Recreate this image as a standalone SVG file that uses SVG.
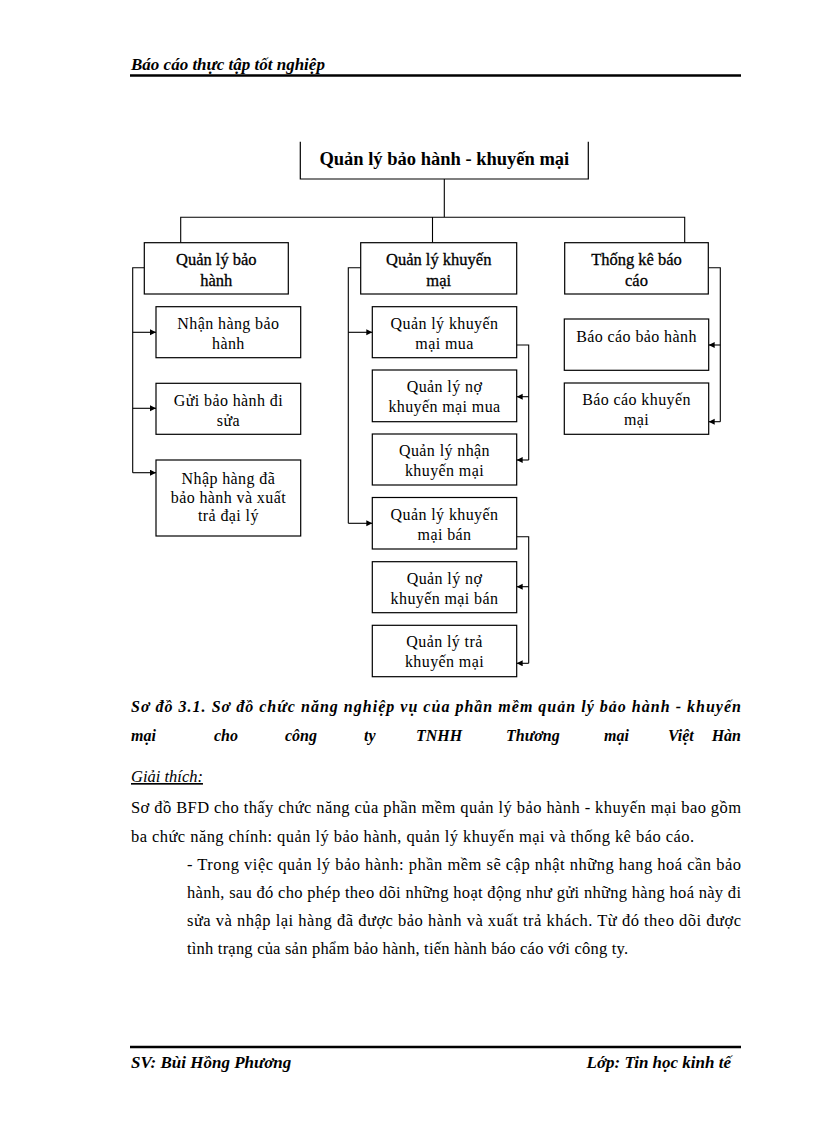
<svg xmlns="http://www.w3.org/2000/svg" width="816" height="1123" viewBox="0 0 816 1123">
<style>
.bx{fill:#fff;stroke:#000;stroke-width:1.2}
.ln{fill:none;stroke:#000;stroke-width:1.1}
.t{font-family:"Liberation Serif","Times New Roman",serif;font-size:16px;letter-spacing:0.4px;fill:#000;text-anchor:middle}
.t2{font-family:"Liberation Serif","Times New Roman",serif;font-size:16.5px;fill:#000;text-anchor:middle;stroke:#000;stroke-width:0.3}
.tt{font-family:"Liberation Serif","Times New Roman",serif;font-size:18.5px;font-weight:bold;fill:#000;text-anchor:middle}
.hd{font-family:"Liberation Serif","Times New Roman",serif;font-size:17px;font-weight:bold;font-style:italic;fill:#000}
.cap{font-family:"Liberation Serif","Times New Roman",serif;font-size:16px;font-weight:bold;font-style:italic;fill:#000}
.body{font-family:"Liberation Serif","Times New Roman",serif;font-size:16.5px;fill:#000}
</style>
<defs>
<marker id="ar" markerUnits="userSpaceOnUse" markerWidth="8" markerHeight="8" refX="6" refY="3" orient="auto">
<path d="M0,0 L6,3 L0,6 Z" fill="#000"/>
</marker>
</defs>

<g id="header">
<text class="hd" x="131" y="70">Báo cáo thực tập tốt nghiệp</text>
<line x1="130" y1="75.5" x2="741" y2="75.5" stroke="#000" stroke-width="2.5"/>
</g>

<g id="connectors">
<path class="ln" d="M444.3,179 V217.3 M180.7,242.7 V217.3 H684.7 V242.7 M432.5,217.3 V242.7"/>
<path class="ln" d="M144.3,267.7 H132.7 V472.7"/>
<line class="ln" x1="132.7" y1="332.3" x2="156" y2="332.3" marker-end="url(#ar)"/>
<line class="ln" x1="132.7" y1="408.3" x2="156" y2="408.3" marker-end="url(#ar)"/>
<line class="ln" x1="132.7" y1="472.7" x2="156" y2="472.7" marker-end="url(#ar)"/>
<path class="ln" d="M360.7,267.7 H348.3 V523.3"/>
<line class="ln" x1="348.3" y1="332.3" x2="372.3" y2="332.3" marker-end="url(#ar)"/>
<line class="ln" x1="348.3" y1="523.3" x2="372.3" y2="523.3" marker-end="url(#ar)"/>
<path class="ln" d="M516.7,345 H528.7 V460"/>
<line class="ln" x1="528.7" y1="396.7" x2="516.7" y2="396.7" marker-end="url(#ar)"/>
<line class="ln" x1="528.7" y1="460" x2="516.7" y2="460" marker-end="url(#ar)"/>
<path class="ln" d="M516.7,536.7 H528.7 V663.3"/>
<line class="ln" x1="528.7" y1="586.7" x2="516.7" y2="586.7" marker-end="url(#ar)"/>
<line class="ln" x1="528.7" y1="663.3" x2="516.7" y2="663.3" marker-end="url(#ar)"/>
<path class="ln" d="M708.3,267.7 H720.3 V421.7"/>
<line class="ln" x1="720.3" y1="345" x2="708.7" y2="345" marker-end="url(#ar)"/>
<line class="ln" x1="720.3" y1="421.7" x2="708.7" y2="421.7" marker-end="url(#ar)"/>
</g>

<g id="root">
<path d="M300.3,141.7 V179 H588.3 V141.7" fill="#fff" stroke="#000" stroke-width="1.2"/>
<text class="tt" x="444.3" y="165">Quản lý bảo hành - khuyến mại</text>
</g>

<g id="n-baohanh">
<rect class="bx" x="144.3" y="242.7" width="144" height="51.3"/>
<text class="t2" x="216.3" y="265">Quản lý bảo</text>
<text class="t2" x="216.3" y="286">hành</text>
</g>
<g id="n-khuyenmai">
<rect class="bx" x="360.7" y="242.7" width="156" height="51.3"/>
<text class="t2" x="438.7" y="265">Quản lý khuyến</text>
<text class="t2" x="438.7" y="286">mại</text>
</g>
<g id="n-thongke">
<rect class="bx" x="564.7" y="242.7" width="143.6" height="51.3"/>
<text class="t2" x="636.5" y="265">Thống kê báo</text>
<text class="t2" x="636.5" y="286">cáo</text>
</g>

<g id="n-nhanhang">
<rect class="bx" x="156" y="306.7" width="144.7" height="51"/>
<text class="t" x="228.4" y="329">Nhận hàng bảo</text>
<text class="t" x="228.4" y="349">hành</text>
</g>
<g id="n-guibaohanh">
<rect class="bx" x="156" y="383.3" width="144.7" height="51"/>
<text class="t" x="228.4" y="405.5">Gửi bảo hành đi</text>
<text class="t" x="228.4" y="425.5">sửa</text>
</g>
<g id="n-nhaphang">
<rect class="bx" x="156" y="460" width="144.7" height="76"/>
<text class="t" x="228.4" y="484.3">Nhập hàng đã</text>
<text class="t" x="228.4" y="502.7">bảo hành và xuất</text>
<text class="t" x="228.4" y="521">trả đại lý</text>
</g>

<g id="n-kmmua">
<rect class="bx" x="372.3" y="306.7" width="144.4" height="51"/>
<text class="t" x="444.5" y="328.5">Quản lý khuyến</text>
<text class="t" x="444.5" y="348.5">mại mua</text>
</g>
<g id="n-nokmmua">
<rect class="bx" x="372.3" y="370" width="144.4" height="51.7"/>
<text class="t" x="444.5" y="391.7">Quản lý nợ</text>
<text class="t" x="444.5" y="411.7">khuyến mại mua</text>
</g>
<g id="n-nhankm">
<rect class="bx" x="372.3" y="434" width="144.4" height="51"/>
<text class="t" x="444.5" y="456">Quản lý nhận</text>
<text class="t" x="444.5" y="476">khuyến mại</text>
</g>
<g id="n-kmban">
<rect class="bx" x="372.3" y="497.5" width="144.4" height="51.5"/>
<text class="t" x="444.5" y="519.5">Quản lý khuyến</text>
<text class="t" x="444.5" y="539.5">mại bán</text>
</g>
<g id="n-nokmban">
<rect class="bx" x="372.3" y="561.7" width="144.4" height="51"/>
<text class="t" x="444.5" y="583.5">Quản lý nợ</text>
<text class="t" x="444.5" y="603.5">khuyến mại bán</text>
</g>
<g id="n-trakm">
<rect class="bx" x="372.3" y="625.3" width="144.4" height="51.4"/>
<text class="t" x="444.5" y="647.3">Quản lý trả</text>
<text class="t" x="444.5" y="667.3">khuyến mại</text>
</g>

<g id="n-bcbh">
<rect class="bx" x="564.3" y="319" width="144.4" height="51.3"/>
<text class="t" x="636.5" y="341.7">Báo cáo bảo hành</text>
</g>
<g id="n-bckm">
<rect class="bx" x="564.3" y="383" width="144.4" height="51.3"/>
<text class="t" x="636.5" y="404.5">Báo cáo khuyến</text>
<text class="t" x="636.5" y="424.5">mại</text>
</g>

<g id="caption">
<text class="cap" x="131" y="712" textLength="610" lengthAdjust="spacing">Sơ đồ 3.1. Sơ đồ chức năng nghiệp vụ của phần mềm quản lý bảo hành - khuyến</text>
<text class="cap" x="131" y="741">mại</text>
<text class="cap" x="214" y="741">cho</text>
<text class="cap" x="285" y="741">công</text>
<text class="cap" x="364" y="741">ty</text>
<text class="cap" x="416" y="741">TNHH</text>
<text class="cap" x="506" y="741">Thương</text>
<text class="cap" x="604" y="741">mại</text>
<text class="cap" x="668" y="741">Việt</text>
<text class="cap" x="741" y="741" text-anchor="end">Hàn</text>
</g>

<g id="body">
<text class="body" x="131" y="782" font-style="italic" text-decoration="underline">Giải thích:</text>
<text class="body" x="131" y="813" textLength="610" lengthAdjust="spacing">Sơ đồ BFD cho thấy chức năng của phần mềm quản lý bảo hành - khuyến mại bao gồm</text>
<text class="body" x="131" y="842" textLength="563" lengthAdjust="spacing">ba chức năng chính: quản lý bảo hành, quản lý khuyến mại và thống kê báo cáo.</text>
<text class="body" x="187" y="870" textLength="554" lengthAdjust="spacing">- Trong việc quản lý bảo hành: phần mềm sẽ cập nhật những hang hoá cần bảo</text>
<text class="body" x="187" y="898" textLength="554" lengthAdjust="spacing">hành, sau đó cho phép theo dõi những hoạt động như gửi những hàng hoá này đi</text>
<text class="body" x="187" y="926" textLength="554" lengthAdjust="spacing">sửa và nhập lại hàng đã được bảo hành và xuất trả khách. Từ đó theo dõi được</text>
<text class="body" x="187" y="954" textLength="441" lengthAdjust="spacing">tình trạng của sản phẩm bảo hành, tiến hành báo cáo với công ty.</text>
</g>

<g id="footer">
<line x1="130" y1="1047" x2="741" y2="1047" stroke="#000" stroke-width="2.5"/>
<text class="hd" x="131" y="1068">SV: Bùi Hồng Phương</text>
<text class="hd" x="731" y="1068" text-anchor="end">Lớp: Tin học kinh tế</text>
</g>
</svg>
